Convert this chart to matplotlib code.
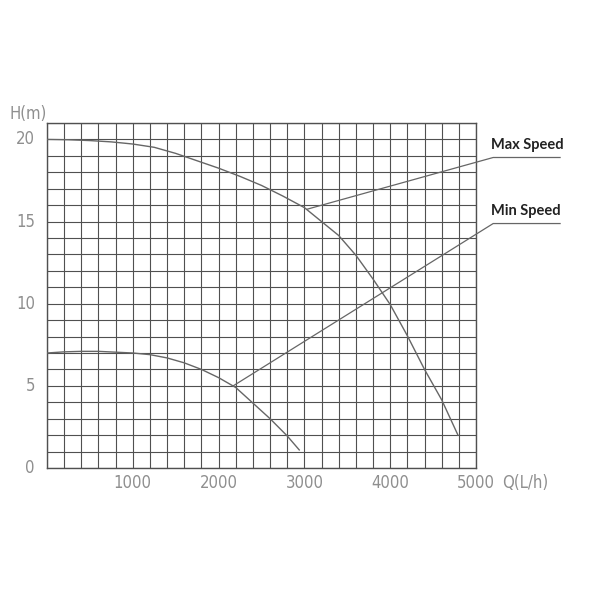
import numpy as np
import matplotlib
matplotlib.use("Agg")
import matplotlib.pyplot as plt

# Data (Q in L/h, H in m)
max_q = [0, 250, 500, 750, 1000, 1250, 1500, 1750, 2000, 2250, 2500, 2750, 3000,
         3200, 3400, 3600, 3800, 4000, 4200, 4400, 4600, 4790]
max_h = [20.0, 19.98, 19.93, 19.85, 19.72, 19.52, 19.15, 18.7, 18.25, 17.75, 17.2,
         16.55, 15.85, 15.0, 14.15, 12.95, 11.5, 9.95, 8.05, 6.0, 4.15, 2.0]

min_q = [0, 200, 400, 600, 800, 1000, 1200, 1400, 1600, 1800, 2000, 2200, 2400,
         2600, 2800, 2940]
min_h = [7.0, 7.07, 7.1, 7.1, 7.05, 7.0, 6.9, 6.7, 6.4, 6.0, 5.5, 4.9, 3.95,
         3.0, 1.95, 1.1]

x_tick_vals = [1000, 2000, 3000, 4000, 5000]
y_tick_vals = [0, 5, 10, 15, 20]
series_labels = ["Max Speed", "Min Speed"]
# leader anchor points on the curves and label points (data coords)
leader_start = [(3030, 15.75), (2170, 5.0)]
leader_end = [(5200, 18.9), (5200, 14.88)]
underline_end_q = 5980

grid_col = "#505050"
curve_col = "#666666"
txt_col = "#8f8f8f"

fig = plt.figure(figsize=(6, 6), dpi=100)
ax = fig.add_axes([47/600, 132/600, 429/600, 345/600])
ax.set_xlim(0, 5000)
ax.set_ylim(0, 21)

# grid
ax.set_xticks(np.arange(0, 5001, 200))
ax.set_yticks(np.arange(0, 22, 1))
ax.grid(True, color=grid_col, lw=0.8)
ax.tick_params(length=0, labelbottom=False, labelleft=False)
for s in ax.spines.values():
    s.set_color(grid_col)
    s.set_linewidth(1.0)

# curves
ax.plot(max_q, max_h, color=curve_col, lw=1.0, zorder=3)
ax.plot(min_q, min_h, color=curve_col, lw=1.0, zorder=3)

# tick labels (CAD-like thin gray text)
tfont = dict(family="DejaVu Sans", stretch="condensed", weight="light",
             color=txt_col, fontsize=12)
for v in x_tick_vals:
    ax.text(v, -0.9, str(v), ha="center", va="center", **tfont)
for v in y_tick_vals:
    ax.text(-140, v, str(v), ha="right", va="center", **tfont)
ax.text(5300, -0.9, "Q(L/h)", ha="left", va="center", **tfont)
fig.text(28/600, 1 - 114/600, "H(m)", ha="center", va="center", **tfont)

# leaders and labels
for lab, (q0, h0), (q1, h1) in zip(series_labels, leader_start, leader_end):
    ax.plot([q0, q1, underline_end_q], [h0, h1, h1], color=curve_col, lw=0.9,
            clip_on=False, zorder=4)
    ax.text(q1 - 30, h1 + 0.35, lab, ha="left", va="bottom", fontsize=10.5,
            fontweight="bold", family="Lato", color="#222222")

fig.savefig("out.png", dpi=100, facecolor="white")
